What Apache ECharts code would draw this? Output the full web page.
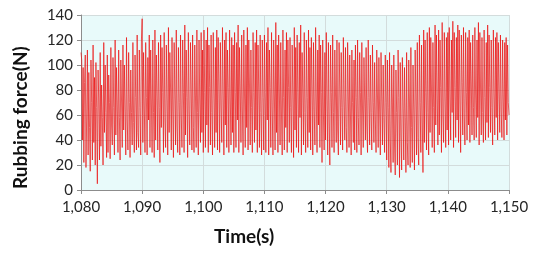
<!DOCTYPE html>
<html>
<head>
<meta charset="utf-8">
<script src="https://cdn.jsdelivr.net/npm/echarts@6/dist/echarts.min.js"></script>
<style>
  html, body { margin: 0; padding: 0; background: #fff; }
  #chart { width: 550px; height: 262px; }
</style>
</head>
<body>
<div id="chart"></div>
<script>
// 时间轴: 1080 s 起, 等间隔采样
var startTime = 1080;
var endTime = 1150;

// 摩擦力 (N), 每 10 s 一段
var force1080 = [110, 104, 40, 98, 22, 86, 108, 18, 60, 112, 28, 94, 50, 15, 104, 70, 24, 116, 38, 90, 20, 102, 66, 5, 96, 72, 24, 110, 35, 84, 58, 20, 118, 46, 100, 62, 26, 108, 30, 92, 70, 25, 114, 52, 36, 106, 66, 28, 120, 44, 98, 68, 30, 112, 58, 24, 104, 72, 34, 116, 48, 100, 64, 28, 122, 56, 32, 110, 70, 26, 96, 62, 36, 118, 54, 30, 108, 74, 32, 124, 46, 34, 112, 66, 28, 120];
var force1090 = [137, 38, 110, 68, 30, 118, 74, 28, 106, 56, 124, 34, 112, 72, 30, 120, 62, 26, 128, 40, 108, 76, 32, 118, 66, 22, 124, 50, 114, 78, 30, 126, 58, 34, 116, 72, 28, 130, 46, 110, 80, 32, 122, 64, 26, 118, 76, 36, 128, 52, 30, 114, 70, 28, 124, 60, 34, 120, 78, 30, 132, 44, 112, 74, 26, 126, 64, 36, 118, 80, 32, 124, 50, 30, 116, 76, 34, 128, 62, 28, 120, 72, 38, 126, 46, 112];
var force1100 = [30, 128, 78, 34, 120, 52, 130, 30, 116, 82, 36, 124, 62, 28, 126, 80, 34, 114, 46, 128, 32, 122, 84, 30, 118, 68, 38, 130, 76, 28, 120, 52, 126, 34, 112, 82, 30, 128, 72, 36, 122, 46, 116, 30, 126, 78, 34, 118, 56, 132, 30, 114, 80, 38, 124, 64, 28, 128, 76, 34, 116, 50, 130, 32, 120, 84, 36, 112, 66, 30, 126, 78, 38, 118, 48, 128, 30, 116, 80, 34, 124, 62, 28, 120, 74, 32];
var force1110 = [124, 78, 30, 118, 56, 130, 28, 112, 82, 34, 126, 64, 28, 120, 76, 32, 134, 46, 116, 30, 124, 80, 36, 118, 60, 28, 128, 74, 32, 112, 50, 126, 30, 120, 82, 38, 122, 66, 30, 116, 76, 26, 130, 48, 114, 34, 124, 78, 30, 118, 58, 132, 28, 110, 80, 36, 126, 62, 30, 120, 74, 34, 128, 46, 114, 32, 122, 80, 28, 118, 64, 36, 130, 72, 30, 112, 52, 124, 34, 116, 78, 22, 120, 60, 32, 110];
var force1120 = [40, 126, 72, 28, 118, 56, 20, 116, 78, 34, 124, 62, 30, 112, 76, 38, 120, 48, 28, 118, 80, 36, 110, 66, 32, 122, 72, 40, 114, 50, 30, 118, 76, 34, 108, 60, 28, 112, 70, 38, 104, 32, 116, 74, 30, 120, 58, 36, 110, 78, 28, 118, 64, 34, 106, 72, 40, 114, 52, 30, 120, 74, 36, 108, 62, 32, 116, 70, 38, 102, 56, 30, 112, 76, 34, 106, 64, 28, 110, 72, 36, 100, 58, 30, 108, 70];
var force1130 = [24, 104, 66, 18, 110, 40, 14, 100, 72, 22, 108, 36, 12, 96, 62, 20, 112, 74, 10, 102, 44, 16, 106, 68, 24, 98, 58, 14, 110, 38, 20, 104, 72, 18, 114, 50, 22, 100, 64, 16, 112, 76, 28, 118, 42, 20, 124, 70, 30, 116, 56, 14, 128, 38, 120, 78, 32, 126, 62, 28, 130, 46, 122, 80, 34, 118, 66, 30, 132, 52, 124, 76, 36, 128, 44, 120, 82, 30, 134, 60, 38, 126, 72, 34, 122, 48];
var force1140 = [126, 36, 130, 76, 40, 120, 62, 135, 34, 126, 82, 42, 122, 56, 132, 38, 128, 72, 30, 124, 86, 44, 130, 60, 36, 126, 78, 40, 122, 52, 128, 38, 118, 84, 44, 124, 66, 40, 130, 76, 42, 120, 58, 134, 36, 126, 80, 44, 122, 62, 38, 128, 74, 40, 118, 54, 132, 42, 124, 82, 46, 120, 66, 36, 128, 76, 44, 122, 58, 126, 40, 118, 80, 46, 124, 64, 42, 120, 72, 40, 118, 56, 122, 44, 116, 70, 60];

var xTicks = [1080, 1090, 1100, 1110, 1120, 1130, 1140, 1150];
var yTicks = [0, 20, 40, 60, 80, 100, 120, 140];

var force = [].concat(force1080, force1090, force1100, force1110, force1120, force1130, force1140);
var sampleStep = (endTime - startTime) / (force.length - 1);
var seriesData = force.map(function (v, i) {
  return [startTime + i * sampleStep, v];
});

var chart = echarts.init(document.getElementById('chart'));
var labelFont = 'Lato, "Open Sans", sans-serif';

chart.setOption({
  animation: false,
  grid: {
    left: 81, right: 41, top: 15, bottom: 72,
    show: true,
    backgroundColor: '#e8fafa',
    borderWidth: 0
  },
  xAxis: {
    type: 'value',
    min: xTicks[0],
    max: xTicks[xTicks.length - 1],
    interval: 10,
    axisLine: { lineStyle: { color: '#8c8c8c' } },
    axisTick: { show: true, length: 4, lineStyle: { color: '#8c8c8c' } },
    splitLine: { show: true, lineStyle: { color: '#d3dcdc', width: 1 } },
    axisLabel: {
      color: '#262626', fontSize: 15, fontFamily: labelFont, margin: 10,
      formatter: function (v) { return v.toLocaleString('en-US'); }
    }
  },
  yAxis: {
    type: 'value',
    min: yTicks[0],
    max: yTicks[yTicks.length - 1],
    interval: 20,
    axisLine: { show: true, lineStyle: { color: '#8c8c8c' } },
    axisTick: { show: true, length: 4, lineStyle: { color: '#8c8c8c' } },
    splitLine: { show: true, lineStyle: { color: '#d3dcdc', width: 1 } },
    axisLabel: { color: '#262626', fontSize: 15, fontFamily: labelFont, margin: 8 }
  },
  graphic: [
    {
      type: 'text', left: 214, top: 227,
      style: { text: 'Time(s)', font: 'bold 19px ' + labelFont, fill: '#111' }
    },
    {
      type: 'text', x: 11, y: 189, rotation: Math.PI / 2,
      style: { text: 'Rubbing force(N)', font: 'bold 19px ' + labelFont, fill: '#111' }
    }
  ],
  series: [{
    name: 'Rubbing force',
    type: 'line',
    data: seriesData,
    showSymbol: false,
    lineStyle: { color: 'rgba(235, 10, 10, 0.75)', width: 0.9 }
  }]
});
</script>
</body>
</html>
